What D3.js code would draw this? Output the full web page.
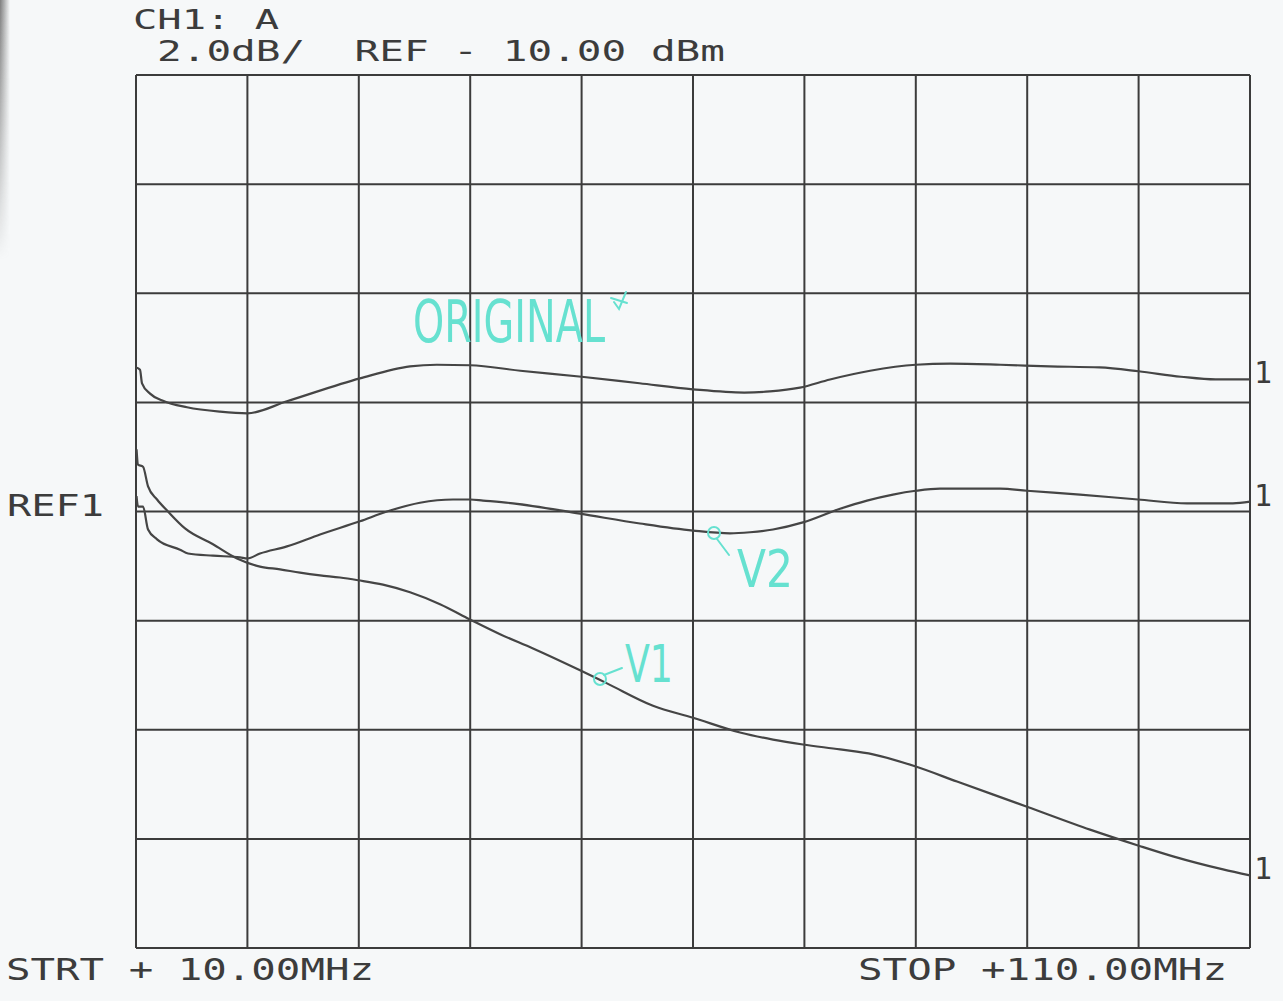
<!DOCTYPE html>
<html>
<head>
<meta charset="utf-8">
<script src="https://cdn.jsdelivr.net/npm/d3@7/dist/d3.min.js"></script>
<style>
  html, body { margin: 0; padding: 0; background: #f6f8f9; }
  svg { display: block; }
</style>
</head>
<body>
<svg id="chart" width="1283" height="1001"></svg>
<script>
// ---- data (frequency in MHz, level in dBm) ----
const freqTicks = [10, 20, 30, 40, 50, 60, 70, 80, 90, 100, 110];
const dbTicks = [-18, -16, -14, -12, -10, -8, -6, -4, -2];

const originalFreq = [10, 10.36, 10.54, 11.26, 12.42, 14.58, 17.54, 20, 23.55, 30.1, 34.6, 37.0, 40, 44.5, 50, 55.2, 60, 64.6, 66.9, 69.6, 72.3, 75.9, 80, 83.1, 87.6, 92.0, 96.5, 100, 103.8, 106.9, 110];
const originalDb   = [-7.36, -7.40, -7.65, -7.84, -7.97, -8.09, -8.17, -8.20, -7.98, -7.56, -7.34, -7.31, -7.32, -7.42, -7.53, -7.65, -7.76, -7.82, -7.80, -7.73, -7.58, -7.42, -7.31, -7.29, -7.31, -7.34, -7.36, -7.43, -7.53, -7.58, -7.58];

const v2Freq = [10.05, 10.18, 10.63, 11.08, 11.89, 13.95, 14.67, 16.91, 19.34, 20, 21.13, 23.55, 26.52, 30.1, 32.53, 35.49, 38.46, 40, 41.15, 43.84, 49.86, 55.24, 60, 63.32, 65.12, 67.18, 69.87, 73.2, 75.62, 77.95, 80, 82.17, 85.13, 87.56, 89.98, 94.74, 99.95, 104.35, 108.47, 110];
const v2Db   = [-9.72, -9.91, -9.91, -10.33, -10.51, -10.70, -10.77, -10.81, -10.84, -10.86, -10.77, -10.64, -10.42, -10.18, -10.00, -9.84, -9.78, -9.78, -9.80, -9.85, -10.04, -10.22, -10.35, -10.40, -10.38, -10.33, -10.20, -9.95, -9.80, -9.69, -9.62, -9.58, -9.58, -9.58, -9.62, -9.69, -9.78, -9.85, -9.85, -9.82];

const v1Freq = [10.05, 10.18, 10.63, 11.08, 11.89, 12.87, 14.40, 16.91, 19.07, 21.13, 22.93, 24.72, 26.52, 28.31, 29.93, 32.17, 34.60, 37.29, 39.98, 42.68, 45.64, 49.86, 52.28, 56.41, 60, 64.22, 67.18, 69.87, 73.2, 76.16, 79.93, 83.70, 89.98, 95.64, 99.95, 103.09, 107.58, 110];
const v1Db   = [-8.86, -9.14, -9.18, -9.54, -9.78, -10.00, -10.31, -10.60, -10.86, -11.01, -11.06, -11.12, -11.17, -11.21, -11.26, -11.34, -11.48, -11.70, -11.98, -12.25, -12.51, -12.91, -13.15, -13.56, -13.78, -14.05, -14.18, -14.27, -14.36, -14.45, -14.67, -14.95, -15.41, -15.83, -16.12, -16.32, -16.56, -16.67];

const traceNames = ["ORIGINAL", "V2", "V1"];
const headerLine1 = "CH1: A";
const headerLine2 = "2.0dB/  REF - 10.00 dBm";
const refLabel = "REF1";
const startLabel = "STRT + 10.00MHz";
const stopLabel = "STOP +110.00MHz";
const endMarker = "1";

// ---- drawing ----
const svg = d3.select("#chart");
const ink = "#3c3c3c";
const cyan = "#66e1d0";

// scan shadow at left edge
const defs = svg.append("defs");
const g1 = defs.append("linearGradient").attr("id", "shadow").attr("x1", 0).attr("x2", 1);
g1.append("stop").attr("offset", "0%").attr("stop-color", "#707070").attr("stop-opacity", 0.9);
g1.append("stop").attr("offset", "100%").attr("stop-color", "#707070").attr("stop-opacity", 0);
const g2 = defs.append("linearGradient").attr("id", "shadowFade").attr("x1", 0).attr("x2", 0).attr("y1", 0).attr("y2", 1);
g2.append("stop").attr("offset", "0%").attr("stop-color", "#fff").attr("stop-opacity", 1);
g2.append("stop").attr("offset", "100%").attr("stop-color", "#fff").attr("stop-opacity", 0);
const m = defs.append("mask").attr("id", "fadeMask");
m.append("rect").attr("x", 0).attr("y", 0).attr("width", 12).attr("height", 260).attr("fill", "url(#shadowFade)");
svg.append("rect").attr("x", 0).attr("y", 0).attr("width", 10).attr("height", 260)
  .attr("fill", "url(#shadow)").attr("mask", "url(#fadeMask)");

const x = d3.scaleLinear().domain([10, 110]).range([136, 1250]);
const y = d3.scaleLinear().domain([-18, -2]).range([948, 75]);

// grid
const grid = svg.append("g").attr("stroke", ink).attr("stroke-width", 2).attr("fill", "none");
grid.selectAll("line.v").data(freqTicks).join("line")
  .attr("x1", d => x(d)).attr("x2", d => x(d))
  .attr("y1", y(-2)).attr("y2", y(-18));
grid.selectAll("line.h").data(dbTicks).join("line")
  .attr("x1", x(10)).attr("x2", x(110))
  .attr("y1", d => y(d)).attr("y2", d => y(d));

// traces
const line = d3.line().x(d => x(d[0])).y(d => y(d[1])).curve(d3.curveMonotoneX);
const traces = [
  d3.zip(originalFreq, originalDb),
  d3.zip(v2Freq, v2Db),
  d3.zip(v1Freq, v1Db)
];
svg.append("g").selectAll("path").data(traces).join("path")
  .attr("d", line)
  .attr("fill", "none").attr("stroke", "#454545").attr("stroke-width", 2.2)
  .attr("stroke-linejoin", "round");

// instrument text
const mono = "'DejaVu Sans Mono', 'Liberation Mono', monospace";
function label(t, xx, yy, len, size) {
  svg.append("text").text(t)
    .attr("x", xx).attr("y", yy)
    .attr("font-family", mono).attr("font-size", size)
    .attr("fill", ink)
    .attr("textLength", len).attr("lengthAdjust", "spacingAndGlyphs")
    .style("white-space", "pre").attr("xml:space", "preserve");
}
label(headerLine1, 133, 29, 146, 26);
label(headerLine2, 157, 61, 568, 29);
label(refLabel, 7, 516, 97, 30);
label(startLabel, 6, 980, 368, 30);
label(stopLabel, 858, 980, 369, 30);

// "1" end markers at the right edge of each trace
const ends = traces.map(t => t[t.length - 1]);
svg.append("g").selectAll("text").data(ends).join("text")
  .text(endMarker)
  .attr("x", 1254).attr("y", d => y(d[1]) + 4)
  .attr("font-family", mono).attr("font-size", 30).attr("fill", ink);

// handwritten annotations (cyan)
const hand = "'Liberation Sans Narrow', 'DejaVu Sans Condensed', 'Liberation Sans', sans-serif";
const ann = svg.append("g").attr("fill", cyan);
ann.append("text").text(traceNames[0]).attr("x", 413).attr("y", 342)
  .attr("font-family", hand).attr("font-size", 58).attr("font-weight", 300)
  .attr("textLength", 192).attr("lengthAdjust", "spacingAndGlyphs");
ann.append("text").text(traceNames[1]).attr("x", 737).attr("y", 587)
  .attr("font-family", hand).attr("font-size", 52).attr("font-weight", 300)
  .attr("textLength", 56).attr("lengthAdjust", "spacingAndGlyphs");
ann.append("text").text(traceNames[2]).attr("x", 625).attr("y", 682)
  .attr("font-family", hand).attr("font-size", 52).attr("font-weight", 300)
  .attr("textLength", 48).attr("lengthAdjust", "spacingAndGlyphs");

const annS = svg.append("g").attr("fill", "none").attr("stroke", cyan).attr("stroke-width", 2).attr("stroke-linecap", "round");
// check mark after ORIGINAL
annS.append("path").attr("d", "M614,302 L619,309 L626,292");
annS.append("path").attr("d", "M611,298 L627,303");
// V2 pointer: small circle with tail
annS.append("circle").attr("cx", 714).attr("cy", 533).attr("r", 6);
annS.append("path").attr("d", "M717,539 L729,555");
// V1 pointer
annS.append("circle").attr("cx", 600).attr("cy", 679).attr("r", 6);
annS.append("path").attr("d", "M604,675 L622,668");
</script>
</body>
</html>
